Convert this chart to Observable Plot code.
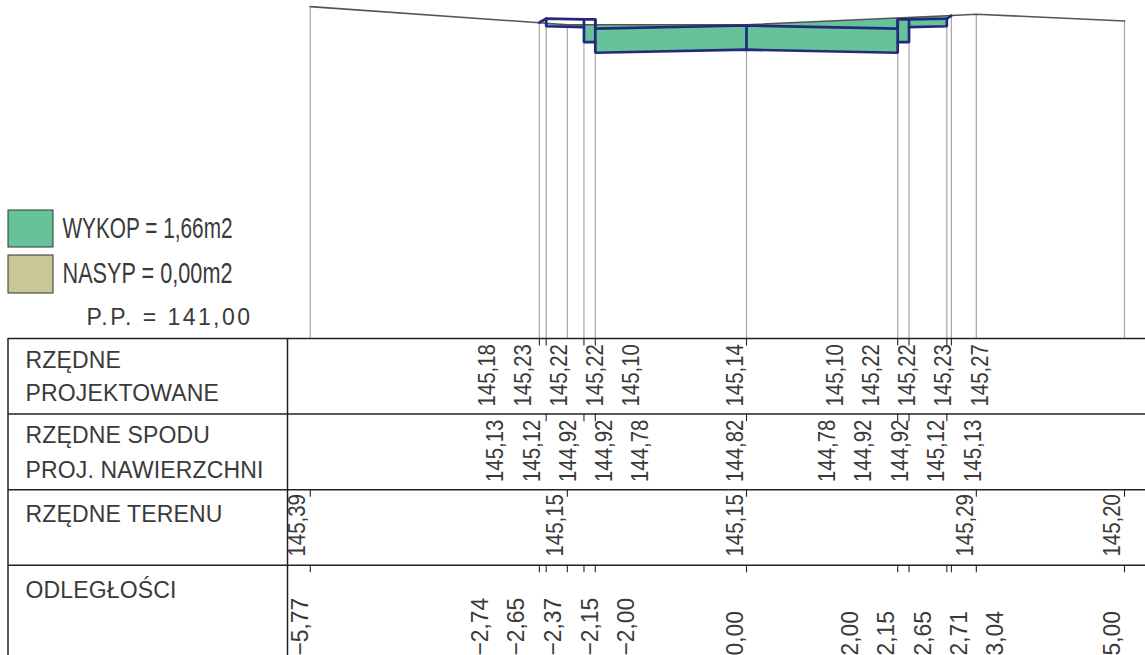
<!DOCTYPE html>
<html>
<head>
<meta charset="utf-8">
<script src="https://cdn.jsdelivr.net/npm/d3@7"></script>
<script src="https://cdn.jsdelivr.net/npm/@observablehq/plot@0.6"></script>
<style>
html,body{margin:0;padding:0;background:#fff;overflow:hidden}
svg{display:block}
.pp text{letter-spacing:2.45px}
.hd text{letter-spacing:.15px}
</style>
</head>
<body>
<div id="chart"></div>
<script>
// ---- data (metres) ----
const terrainX = [-5.77, -2.65, -2.37, 0, 2.65, 3.04, 5];
const terrainZ = [145.39, 145.17, 145.15, 145.15, 145.27, 145.29, 145.20];
const projX = [-2.74, -2.65, -2.15, -2.00, -2.00, 0, 2.00, 2.00, 2.15, 2.65, 2.71];
const projZ = [145.18, 145.23, 145.22, 145.22, 145.10, 145.14, 145.10, 145.22, 145.22, 145.23, 145.27];
const baseX = [-2.65, -2.15, -2.15, -2.00, -2.00, 0, 2.00, 2.00, 2.15, 2.15, 2.65];
const baseZ = [145.13, 145.12, 144.92, 144.92, 144.78, 144.82, 144.78, 144.92, 144.92, 145.12, 145.13];

const rzProj = [145.18, 145.23, 145.22, 145.22, 145.10, 145.14, 145.10, 145.22, 145.22, 145.23, 145.27];
const rzSpod = [145.13, 145.12, 144.92, 144.92, 144.78, 144.82, 144.78, 144.92, 144.92, 145.12, 145.13];
const rzTeren = [145.39, 145.15, 145.15, 145.29, 145.20];
const odl = [-5.77, -2.74, -2.65, -2.37, -2.15, -2.00, 0, 2.00, 2.15, 2.65, 2.71, 3.04, 5.00];

const tickProj = [-2.74, -2.65, -2.15, -2.00, 0, 2.00, 2.15, 2.65, 2.71];
const tickSpod = [-2.65, -2.15, -2.00, 0, 2.00, 2.15, 2.65];
const tickTeren = [-5.77, -2.37, 0, 3.04, 5.00];

const legendLabels = ["WYKOP = 1,66m2", "NASYP = 0,00m2"];
const datumLabel = "P.P. = 141,00";
const rowTitles = ["RZĘDNE", "PROJEKTOWANE", "RZĘDNE SPODU", "PROJ. NAWIERZCHNI", "RZĘDNE TERENU", "ODLEGŁOŚCI"];

// ---- layout ----
const W = 1145, H = 655, K = 75.6, X0 = 746, Y0 = 338, DATUM = 141;
const mx = px => (px - X0) / K;
const mz = py => DATUM + (Y0 - py) / K;
const rowLines = [0, 1, 2, 3].map(i => DATUM - i);
const fmt = v => d3.format(".2f")(v).replace(".", ",");
const tickLen = 0.1;
const spanPx = [487, 523, 559, 595, 631, 735, 835, 871, 907, 943, 980];
const spodPx = [495, 532, 568, 604, 640, 735, 827, 863, 900, 936, 973];
const terenPx = [297, 555, 735, 965, 1112];
const odlPx = [300, 480, 516, 553, 590, 626, 735, 850, 886, 923, 959, 995, 1112];
const titleY = [360, 393, 435, 470, 514, 590];

const pairs = (xs, zs) => xs.map((x, i) => ({x, z: zs[i]}));
const terrain = pairs(terrainX, terrainZ);
const proj = pairs(projX, projZ);
const base = pairs(baseX, baseZ);
// cut area: terrain across the top, sub-base back along the bottom
const cut = [...terrain.slice(1, 5), ...base.slice().reverse()];
const outline = [proj[1], ...base, proj[9]];
const inner = [
  [proj[2], base[1]], [proj[3], base[3]], [proj[5], base[5]], [proj[7], base[7]], [proj[8], base[9]]
];

// gray verticals from the section down to the table
const drops = [
  {x: -5.77, z: 145.39}, {x: -2.74, z: 145.18}, {x: -2.65, z: 145.23}, {x: -2.37, z: 145.15},
  {x: -2.15, z: 145.22}, {x: -2.00, z: 145.10}, {x: 0, z: 145.14}, {x: 2.00, z: 145.22},
  {x: 2.15, z: 145.22}, {x: 2.65, z: 145.23}, {x: 2.71, z: 145.27}, {x: 3.04, z: 145.29}, {x: 5.00, z: 145.20}
];

const vals = (v, px) => v.map((d, i) => ({t: fmt(d), x: mx(px[i])}));
const FONT = "'Liberation Sans',sans-serif";
const INK = "#3a3a3a";
const numberRow = (v, px, py, cls) => Plot.text(vals(v, px), {
  x: "x", y: () => mz(py), text: "t", rotate: -90, textAnchor: "start", lineAnchor: "middle",
  fontFamily: FONT, fontSize: 24, fill: INK, className: cls
});
const ticks = (xs, row) => Plot.ruleX(xs, {
  x: d => d, y1: DATUM - row, y2: DATUM - row - tickLen, stroke: "#222", strokeWidth: 1.1
});

const swatches = [
  {x1: 8, x2: 53, y1: 210, y2: 247, f: "#66c399"},
  {x1: 8, x2: 53, y1: 255, y2: 293, f: "#c8c896"}
].map(s => ({x1: mx(s.x1), x2: mx(s.x2), y1: mz(s.y1), y2: mz(s.y2), f: s.f}));

const NAVY = "#25297a", NAVYW = 2.7;
const plot = Plot.plot({
  width: W, height: H, margin: 0,
  x: {domain: [mx(0), mx(W)], range: [0, W], axis: null},
  y: {domain: [mz(0), mz(H)], range: [0, H], axis: null},
  marks: [
    Plot.ruleX(drops, {x: "x", y1: d => d.z, y2: DATUM, stroke: "#a6a6a6", strokeWidth: 1.2}),
    Plot.line(cut, {x: "x", y: "z", fill: "#66c399", stroke: "none"}),
    Plot.line(terrain, {x: "x", y: "z", stroke: "#555", strokeWidth: 1.6}),
    Plot.line(proj, {x: "x", y: "z", stroke: NAVY, strokeWidth: NAVYW, strokeLinejoin: "miter"}),
    Plot.line(outline, {x: "x", y: "z", stroke: NAVY, strokeWidth: NAVYW, strokeLinejoin: "miter"}),
    ...inner.map(seg => Plot.line(seg, {x: "x", y: "z", stroke: NAVY, strokeWidth: NAVYW})),

    Plot.rect(swatches, {x1: "x1", x2: "x2", y1: "y1", y2: "y2", fill: "f", stroke: "#333", strokeWidth: 1}),
    Plot.text(legendLabels, {
      x: () => mx(62), y: (d, i) => mz([228, 273][i]), text: d => d, textAnchor: "start",
      fontFamily: FONT, fontSize: 30, fill: INK, className: "lg"
    }),
    Plot.text([datumLabel], {
      x: () => mx(86), y: () => mz(317.5), text: d => d, textAnchor: "start",
      fontFamily: FONT, fontSize: 23, fill: INK, className: "pp"
    }),

    Plot.ruleY(rowLines, {y: d => d, x1: mx(8), x2: mx(W), stroke: "#222", strokeWidth: 1.5}),
    Plot.ruleX([mx(7.5), mx(287)], {x: d => d, y1: DATUM, y2: mz(H), stroke: "#222", strokeWidth: 1.5}),
    Plot.text(rowTitles, {
      x: () => mx(25), y: (d, i) => mz(titleY[i]), text: d => d, textAnchor: "start",
      fontFamily: FONT, fontSize: 23, fill: INK, className: "hd"
    }),

    ticks(tickProj, 0), ticks(tickSpod, 1), ticks(tickTeren, 2), ticks(odl, 3),
    numberRow(rzProj, spanPx, 406, "num"),
    numberRow(rzSpod, spodPx, 481.5, "num"),
    numberRow(rzTeren, terenPx, 556, "num"),
    numberRow(odl, odlPx, 655, "numb")
  ]
});
document.getElementById("chart").append(plot);

// the drawing's CAD lettering is condensed: squeeze glyphs along the baseline
const squeeze = (sel, len) => plot.querySelectorAll(sel).forEach(t => {
  t.setAttribute("textLength", len(t.getComputedTextLength()));
  t.setAttribute("lengthAdjust", "spacingAndGlyphs");
});
squeeze(".num text", w => w * 0.85);
squeeze(".numb text", w => w * 0.95);
squeeze(".lg text", () => 170);
</script>
</body>
</html>
